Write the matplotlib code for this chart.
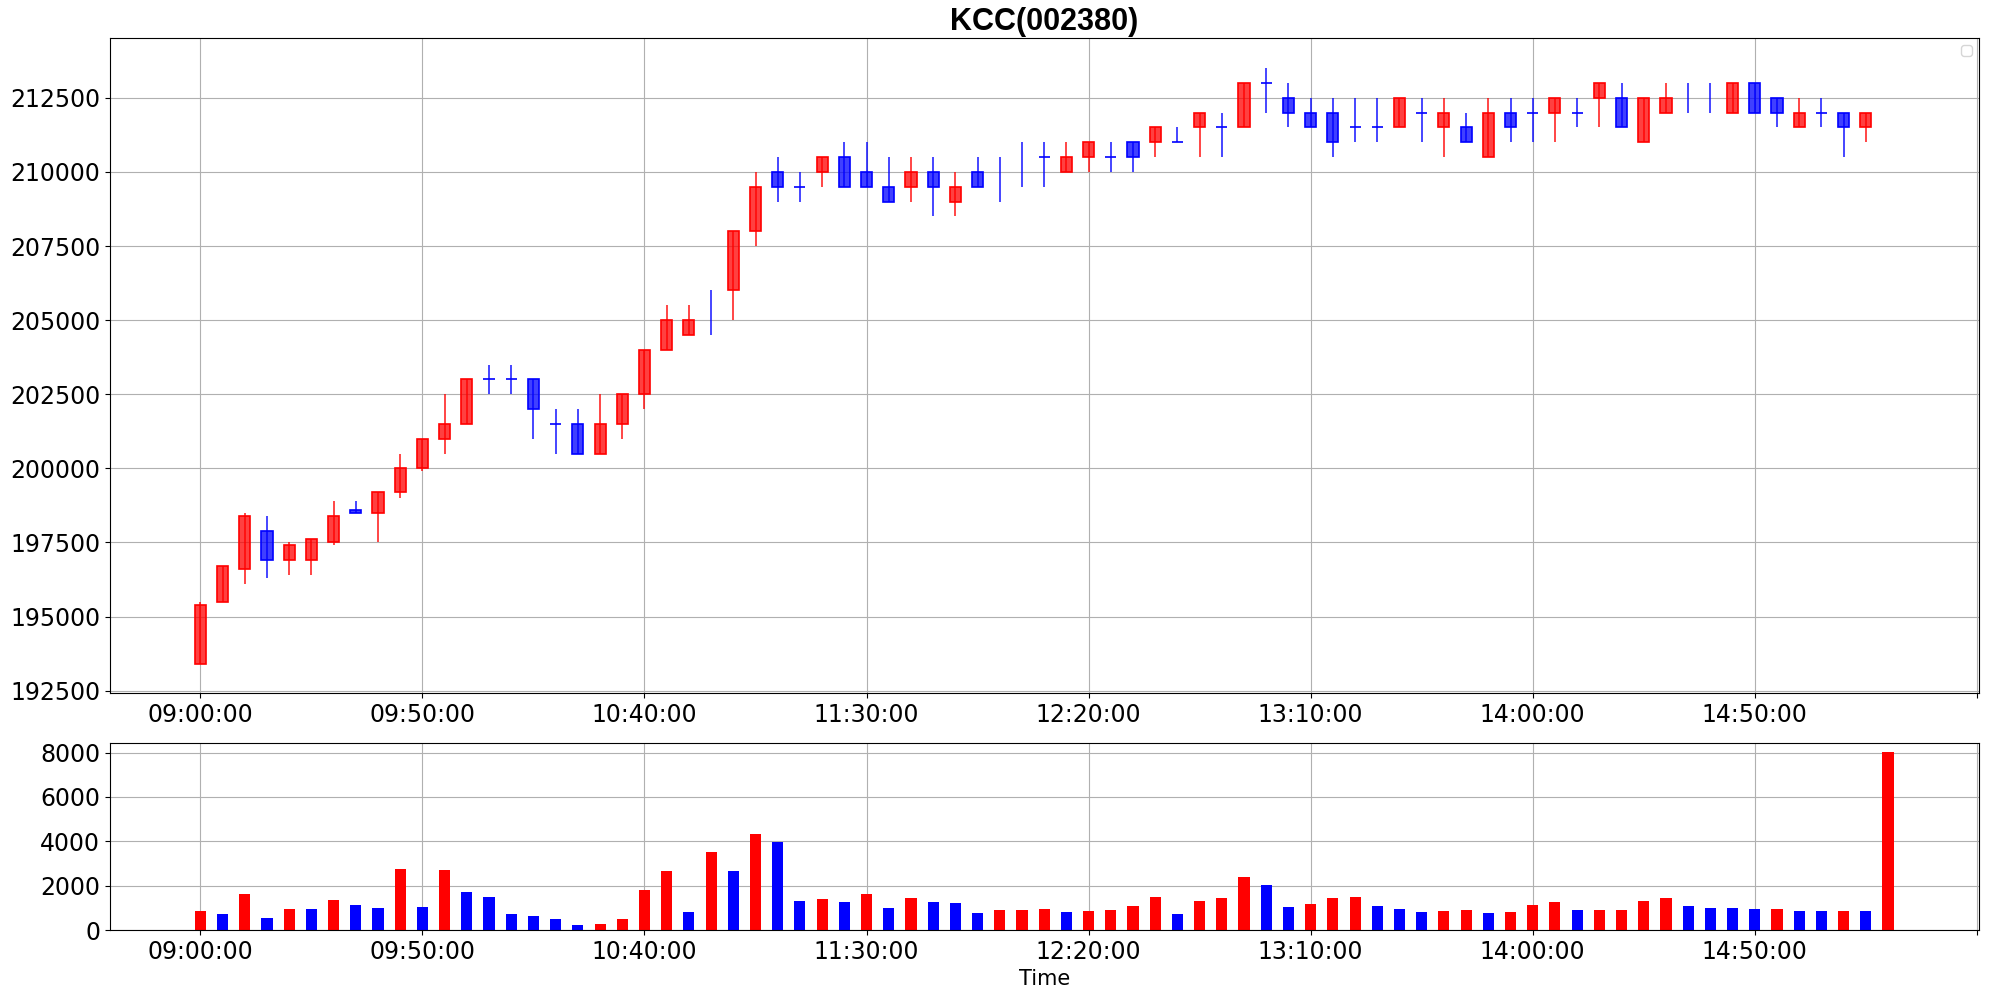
import numpy as np
import matplotlib
matplotlib.use("Agg")
import matplotlib.pyplot as plt

nan = float("nan")

# 5 minute candles, index 0 = 09:00
opens = [193400, 195500, 196600, 197900, 196900, 196900, 197500, 198600, 198500, 199200,
         200000, 201000, 201500, 203000, 203000, 203000, 201500, 201500, 200500, 201500,
         202500, 204000, 204500, nan, 206000, 208000, 210000, 209500, 210000, 210500,
         210000, 209500, 209500, 210000, 209000, 210000, nan, nan, 210500, 210000,
         210500, 210500, 211000, 211000, 211000, 211500, 211500, 211500, 213000, 212500,
         212000, 212000, 211500, 211500, 211500, 212000, 211500, 211500, 210500, 212000,
         212000, 212000, 212000, 212500, 212500, 211000, 212000, nan, nan, 212000,
         213000, 212500, 211500, 212000, 212000, 211500, nan]
highs = [195500, 196700, 198500, 198400, 197500, 197600, 198900, 198900, 199200, 200500,
         201000, 202500, 203000, 203500, 203500, 203000, 202000, 202000, 202500, 202500,
         204000, 205500, 205500, 206000, 208000, 210000, 210500, 210000, 210500, 211000,
         211000, 210500, 210500, 210500, 210000, 210500, 210500, 211000, 211000, 211000,
         211000, 211000, 211000, 211500, 211500, 212000, 212000, 213000, 213500, 213000,
         212500, 212500, 212500, 212500, 212500, 212500, 212500, 212000, 212500, 212500,
         212500, 212500, 212500, 213000, 213000, 212500, 213000, 213000, 213000, 213000,
         213000, 212500, 212500, 212500, 212000, 212000, nan]
lows = [193400, 195500, 196100, 196300, 196400, 196400, 197400, 198500, 197500, 199000,
        199900, 200500, 201500, 202500, 202500, 201000, 200500, 200500, 200500, 201000,
        202000, 204000, 204500, 204500, 205000, 207500, 209000, 209000, 209500, 209500,
        209500, 209000, 209000, 208500, 208500, 209500, 209000, 209500, 209500, 210000,
        210000, 210000, 210000, 210500, 211000, 210500, 210500, 211500, 212000, 211500,
        211500, 210500, 211000, 211000, 211500, 211000, 210500, 211000, 210500, 211000,
        211000, 211000, 211500, 211500, 211500, 211000, 212000, 212000, 212000, 212000,
        212000, 211500, 211500, 211500, 210500, 211000, nan]
closes = [195400, 196700, 198400, 196900, 197400, 197600, 198400, 198500, 199200, 200000,
          201000, 201500, 203000, 203000, 203000, 202000, 201500, 200500, 201500, 202500,
          204000, 205000, 205000, nan, 208000, 209500, 209500, 209500, 210500, 209500,
          209500, 209000, 210000, 209500, 209500, 209500, nan, nan, 210500, 210500,
          211000, 210500, 210500, 211500, 211000, 212000, 211500, 213000, 213000, 212000,
          211500, 211000, 211500, 211500, 212500, 212000, 212000, 211000, 212000, 211500,
          212000, 212500, 212000, 213000, 211500, 212500, 212500, nan, nan, 213000,
          212000, 212000, 212000, 212000, 211500, 212000, nan]

volumes = [860, 720, 1620, 540, 950, 950, 1350, 1130, 990, 2750,
           1040, 2710, 1720, 1490, 720, 630, 500, 230, 270, 500,
           1800, 2660, 810, 3520, 2660, 4330, 3970, 1310, 1400, 1260,
           1620, 990, 1440, 1260, 1220, 770, 900, 900, 950, 810,
           860, 900, 1080, 1490, 720, 1310, 1440, 2390, 2030, 1040,
           1170, 1440, 1490, 1080, 950, 810, 860, 900, 770, 810,
           1130, 1260, 900, 900, 900, 1310, 1440, 1080, 990, 990,
           950, 950, 860, 860, 860, 860, 8030]
volume_up = "RBRBRBRBBRBRBBBBBBRRRRBRBRBBRBRBRBBBRRRBRRRRBRRRBBRRRBBBRRBRRRBRRRRBBBBRBBRBR"

tick_pos = list(range(0, 81, 10))
tick_labels = ["09:00:00", "09:50:00", "10:40:00", "11:30:00", "12:20:00",
               "13:10:00", "14:00:00", "14:50:00", ""]

title = "KCC(002380)"

o = np.array(opens, dtype=float)
h = np.array(highs, dtype=float)
l = np.array(lows, dtype=float)
c = np.array(closes, dtype=float)
x = np.arange(len(o))

fig = plt.figure(figsize=(19.89, 9.98), dpi=100)
ax1 = fig.add_axes([0.0553, 0.3056, 0.9397, 0.6564])
ax2 = fig.add_axes([0.0553, 0.0681, 0.9397, 0.1874])

up = c > o
colors = np.where(up, "red", "blue")
ok = ~np.isnan(h)
ax1.vlines(x[ok], l[ok], h[ok], colors=colors[ok], linewidth=1.2, alpha=0.85)
body = ~np.isnan(o)
face = [(1, 0, 0, 0.75) if u else (0, 0, 1, 0.75) for u in up[body]]
ax1.bar(x[body], c[body] - o[body], bottom=o[body], width=0.5,
        color=face, edgecolor=colors[body], linewidth=1.2)

vcol = ["red" if v == "R" else "blue" for v in volume_up]
ax2.bar(x, volumes, width=0.5, color=vcol)

for ax in (ax1, ax2):
    ax.set_xlim(-4.07, 80.1)
    ax.set_xticks(tick_pos)
    ax.set_xticklabels(tick_labels)
    ax.tick_params(labelsize=17)
    ax.grid(True)
    ax.set_axisbelow(True)

ax1.set_ylim(192420, 214520)
ax1.set_yticks(np.arange(192500, 213000, 2500))
ax1.set_title(title, fontsize=22, fontweight="bold", family="Liberation Sans", pad=6)
ax1.legend(handles=[], loc="upper right")

ax2.set_ylim(0, 8430)
ax2.set_yticks([0, 2000, 4000, 6000, 8000])
ax2.set_xlabel("Time", fontsize=15)

fig.savefig("out.png")
